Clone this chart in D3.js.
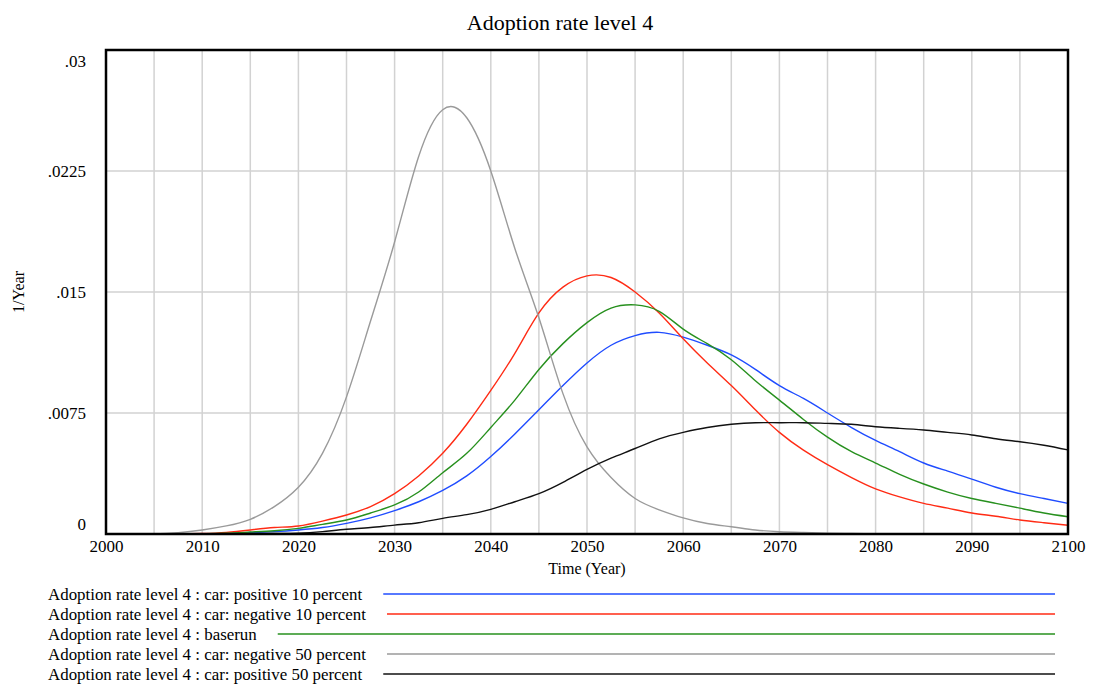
<!DOCTYPE html>
<html>
<head>
<meta charset="utf-8">
<script src="https://cdn.jsdelivr.net/npm/d3@7"></script>
<style>
  body { margin: 0; background: #fff; }
  svg { font-family: "Liberation Serif", "Times New Roman", serif; }
</style>
</head>
<body>
<div id="container"></div>
<script>
// data
var years = [2000, 2002.5, 2005, 2007.5, 2010, 2012.5, 2015, 2017.5, 2020, 2022.5,
    2025, 2027.5, 2030, 2032.5, 2035, 2037.5, 2040, 2042.5, 2045, 2047.5,
    2050, 2052.5, 2055, 2057.5, 2060, 2062.5, 2065, 2067.5, 2070, 2072.5,
    2075, 2077.5, 2080, 2082.5, 2085, 2087.5, 2090, 2092.5, 2095, 2097.5, 2100];

var positive10 = [0, 0, 0, 0, 0.00001, 0.00003, 0.00008, 0.00015, 0.00025, 0.0004,
    0.00066, 0.001, 0.00145, 0.002, 0.0027, 0.0036, 0.0048, 0.0062, 0.0077, 0.0092,
    0.0106, 0.0117, 0.0123, 0.0125, 0.0122, 0.0117, 0.0111, 0.0102, 0.0092, 0.0084,
    0.0075, 0.0066, 0.0058, 0.0051, 0.0044, 0.0039, 0.0034, 0.0029, 0.0025, 0.0022, 0.0019];

var negative10 = [0, 0, 0, 0, 0.00003, 0.0001, 0.00025, 0.0004, 0.0005, 0.0008,
    0.00118, 0.0017, 0.0025, 0.0036, 0.005, 0.0068, 0.0089, 0.0112, 0.0137, 0.0153,
    0.0160, 0.0159, 0.0150, 0.0137, 0.0121, 0.0106, 0.0092, 0.0077, 0.0063, 0.0052,
    0.0043, 0.0035, 0.0028, 0.0023, 0.0019, 0.0016, 0.0013, 0.0011, 0.00087, 0.0007, 0.00054];

var baserun = [0, 0, 0, 0, 0.00002, 0.00005, 0.00012, 0.0002, 0.00035, 0.0006,
    0.00087, 0.0013, 0.0018, 0.0026, 0.0038, 0.005, 0.0066, 0.0083, 0.0102, 0.0118,
    0.0131, 0.014, 0.0142, 0.0138, 0.0127, 0.0118, 0.0108, 0.0095, 0.0083, 0.0071,
    0.006, 0.0051, 0.0044, 0.0037, 0.0031, 0.0026, 0.0022, 0.0019, 0.0016, 0.0013, 0.00107];

var negative50 = [0, 0, 0, 0.00008, 0.00025, 0.0005, 0.00091, 0.0017, 0.0029, 0.005,
    0.0085, 0.0132, 0.0181, 0.0234, 0.0263, 0.0258, 0.0225, 0.0177, 0.0134, 0.0087,
    0.0054, 0.0035, 0.0022, 0.0015, 0.001, 0.00065, 0.00045, 0.00025, 0.00014, 0.00009,
    0.00005, 0.00003, 0.00002, 0.00001, 0.00001, 0, 0, 0, 0, 0, 0];

var positive50 = [0, 0, 0, 0, 0, 0, 0.00001, 0.00003, 0.00005, 0.00015,
    0.00029, 0.0004, 0.00055, 0.0007, 0.00097, 0.0012, 0.00153, 0.002, 0.0025, 0.0032,
    0.004, 0.0047, 0.0053, 0.0059, 0.0063, 0.0066, 0.0068, 0.0069, 0.0069, 0.0069,
    0.00686, 0.0068, 0.00665, 0.00655, 0.00645, 0.0063, 0.00614, 0.0059, 0.00572, 0.0055, 0.00521];

var seriesNames = [
    "Adoption rate level 4 : car: positive 10 percent",
    "Adoption rate level 4 : car: negative 10 percent",
    "Adoption rate level 4 : baserun",
    "Adoption rate level 4 : car: negative 50 percent",
    "Adoption rate level 4 : car: positive 50 percent"
];
var seriesValues = [positive10, negative10, baserun, negative50, positive50];
var seriesColors = ["#1f4cff", "#ff2b14", "#27901e", "#9a9a9a", "#111111"];

var yTicks = [0, 0.0075, 0.015, 0.0225, 0.03];
var yTickLabels = ["0", ".0075", ".015", ".0225", ".03"];

var width = 1112, height = 689;
var plotLeft = 106, plotRight = 1068, plotTop = 50, plotBottom = 534;

let svg = d3.select('#container')
    .append('svg')
    .attr('width', width)
    .attr('height', height);

var x = d3.scaleLinear().domain([2000, 2100]).range([plotLeft, plotRight]);
var y = d3.scaleLinear().domain([0, 0.03]).range([plotBottom, plotTop]);

// grid
svg.append("g")
    .selectAll("line")
    .data(d3.range(2005, 2100, 5))
    .enter().append("line")
    .attr("x1", d => x(d)).attr("x2", d => x(d))
    .attr("y1", plotTop).attr("y2", plotBottom)
    .attr("stroke", "#d2d2d2")
    .attr("stroke-width", 1.5);

svg.append("g")
    .selectAll("line")
    .data(yTicks.slice(1, -1))
    .enter().append("line")
    .attr("x1", plotLeft).attr("x2", plotRight)
    .attr("y1", d => y(d)).attr("y2", d => y(d))
    .attr("stroke", "#d2d2d2")
    .attr("stroke-width", 1.5);

// lines
var line = d3.line()
    .x(function (d) { return x(d[0]); })
    .y(function (d) { return y(d[1]); })
    .curve(d3.curveNatural);

svg.append("g")
    .selectAll("path")
    .data(seriesValues)
    .enter().append("path")
    .attr("d", function (vals) { return line(years.map((yr, i) => [yr, vals[i]])); })
    .attr("fill", "none")
    .attr("stroke", (d, i) => seriesColors[i])
    .attr("stroke-width", 1.4);

// frame
svg.append("rect")
    .attr("x", plotLeft).attr("y", plotTop)
    .attr("width", plotRight - plotLeft).attr("height", plotBottom - plotTop)
    .attr("fill", "none")
    .attr("stroke", "#000")
    .attr("stroke-width", 2.5);

// x axis
var xAxis = svg.append("g")
    .attr("transform", "translate(0," + plotBottom + ")")
    .call(d3.axisBottom(x).tickValues(d3.range(2000, 2101, 10)).tickFormat(d3.format("d")).tickSize(0).tickPadding(6));
xAxis.select(".domain").remove();
xAxis.selectAll("text").attr("font-size", 17).attr("fill", "#000")
    .attr("font-family", "Liberation Serif, serif");

// y axis
var yAxis = svg.append("g")
    .attr("transform", "translate(" + (plotLeft - 20) + ",0)")
    .call(d3.axisLeft(y).tickValues(yTicks).tickFormat((d, i) => yTickLabels[i]).tickSize(0).tickPadding(0));
yAxis.select(".domain").remove();
yAxis.selectAll("text").attr("font-size", 17).attr("fill", "#000")
    .attr("font-family", "Liberation Serif, serif")
    .attr("dy", function (d) {
        if (d == 0.03) return "0.95em";
        if (d == 0) return "-0.25em";
        return "0.35em";
    });

// title and axis titles
svg.append("text")
    .attr("x", 560)
    .attr("y", 30)
    .attr("text-anchor", "middle")
    .attr("font-size", 22)
    .text("Adoption rate level 4");

svg.append("text")
    .attr("x", x(2050))
    .attr("y", 574)
    .attr("text-anchor", "middle")
    .attr("font-size", 16)
    .text("Time (Year)");

svg.append("text")
    .attr("transform", "translate(24,292) rotate(-90)")
    .attr("text-anchor", "middle")
    .attr("font-size", 16)
    .text("1/Year");

// legend
var legend = svg.append("g")
    .selectAll("g")
    .data(seriesNames)
    .enter().append("g")
    .attr("transform", (d, i) => "translate(48," + (600 + i * 20) + ")");

legend.append("text")
    .attr("font-size", 16.9)
    .text(d => d);

legend.append("line")
    .attr("x1", function () { return this.parentNode.querySelector("text").getComputedTextLength() + 21; })
    .attr("x2", 1055 - 48)
    .attr("y1", -6).attr("y2", -6)
    .attr("stroke", (d, i) => seriesColors[i])
    .attr("stroke-width", 1.4);
</script>
</body>
</html>
